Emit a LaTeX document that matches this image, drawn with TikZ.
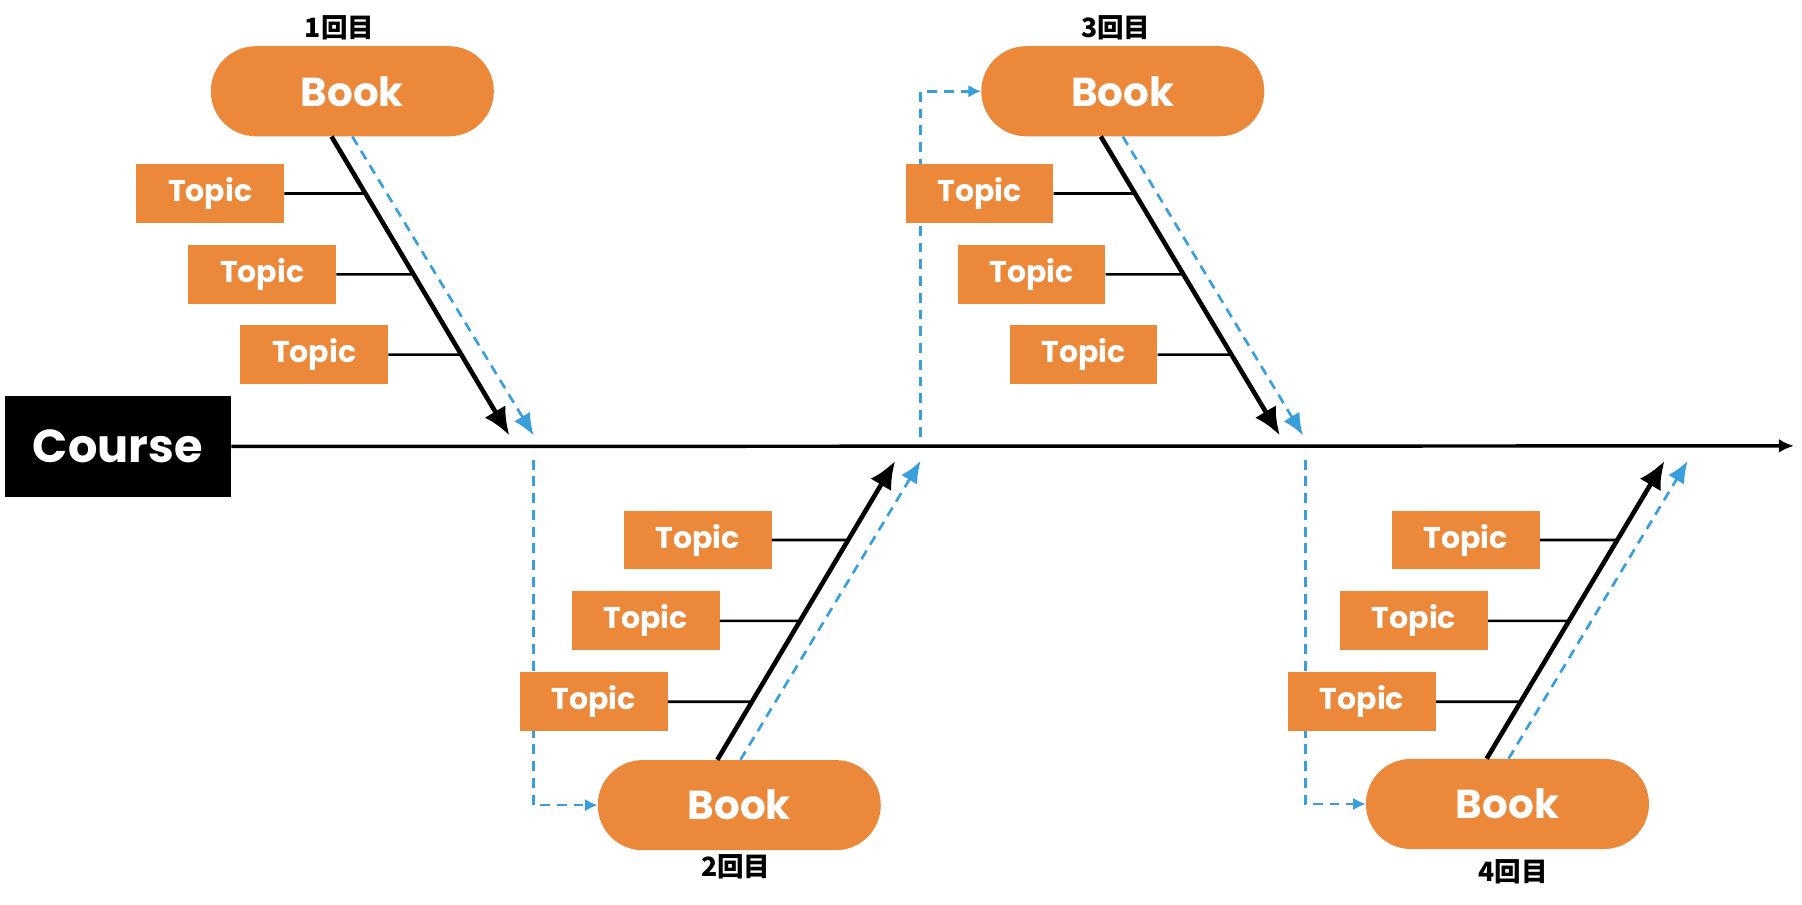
\documentclass[tikz,border=0pt]{standalone}
\usepackage{fontspec}
\setmainfont{Poppins}
\newfontfamily\cjk{Noto Sans CJK JP}
\usepackage{tikz}
\usetikzlibrary{calc}
\usetikzlibrary{arrows.meta}
\usetikzlibrary{positioning}

\definecolor{bookorange}{RGB}{236,136,58}
\definecolor{flowblue}{RGB}{58,158,219}

\tikzset{
 book/.style={rectangle, rounded corners=38.9pt, fill=bookorange, text=white, minimum width=245pt, minimum height=78pt, inner sep=0pt, font=\fontsize{35}{40}\selectfont\bfseries},
 topic/.style={rectangle, fill=bookorange, text=white, minimum width=128pt, minimum height=51pt, inner sep=0pt, font=\fontsize{26}{30}\selectfont\bfseries},
 roundlabel/.style={inner sep=0pt, font=\cjk\fontsize{23}{26}\selectfont\bfseries},
 bone/.style={line width=4pt, -{Latex[length=24pt,width=21pt]}},
 flow/.style={draw=flowblue, line width=2.3pt, dash pattern=on 8.5pt off 6pt},
 flowtip/.style={-{Latex[length=19pt,width=16pt,fill=flowblue]}},
 jump/.style={-{Latex[length=11pt,width=11pt,fill=flowblue]}},
 twig/.style={line width=2.3pt},
}

\begin{document}
\begin{tikzpicture}[x=1pt, y=-1pt]
 \useasboundingbox (0,0) rectangle (1560,783);
 % spine
 \node [rectangle, fill=black, text=white, minimum width=196pt, minimum height=87pt, font=\fontsize{40}{46}\selectfont\bfseries] (course) at (102, 386.5) {Course};
 \coordinate (axis) at (1553, 386);
 \draw [line width=3pt, -{Latex[length=13pt,width=12pt]}] (course.east) -- (axis);

 % books
 \node [book] (book1) at (305, 79) {Book};
 \node [book] (book2) at (640, 697) {Book};
 \node [book] (book3) at (972, 79) {Book};
 \node [book] (book4) at (1305, 696) {Book};
 \node [roundlabel] (lab1) at (294, 24) {1回目};
 \node [roundlabel] (lab2) at (637, 750) {2回目};
 \node [roundlabel] (lab3) at (966, 24) {3回目};
 \node [roundlabel] (lab4) at (1310, 755) {4回目};

 % ends of the bones
 \coordinate (s1) at ([xshift=-18pt]book1.south);
 \coordinate (s2) at ([xshift=-19pt]book2.north);
 \coordinate (s3) at ([xshift=-19pt]book3.south);
 \coordinate (s4) at ([xshift=-18pt]book4.north);
 \coordinate (e1) at (441, 377);
 \coordinate (e2) at (775, 399);
 \coordinate (e3) at (1108, 377);
 \coordinate (e4) at (1441, 399);
 \coordinate (f1) at (462, 377);
 \coordinate (f2) at (797, 399);
 \coordinate (f3) at (1128, 377);
 \coordinate (f4) at (1461, 399);
 \coordinate (d1) at (462, 398);
 \coordinate (d2) at (797, 378);
 \coordinate (d3) at (1130, 398);

 % reading order
 \draw [flow, jump] (d1) |- (book2.west);
 \draw [flow, jump] (d2) |- (book3.west);
 \draw [flow, jump] (d3) |- (book4.west);
 \draw [flow, flowtip] (book1.south) -- (f1);
 \draw [flow, flowtip] ([xshift=1pt]book2.north) -- (f2);
 \draw [flow, flowtip] (book3.south) -- (f3);
 \draw [flow, flowtip] ([xshift=1pt]book4.north) -- (f4);

 % topics
 \node [topic] (t1a) at (182, 167.5) {Topic};
 \node [topic] (t1b) at (227, 237.5) {Topic};
 \node [topic] (t1c) at (272, 307) {Topic};
 \node [topic] (t2a) at (604, 467.5) {Topic};
 \node [topic] (t2b) at (559, 537.5) {Topic};
 \node [topic] (t2c) at (514, 607.5) {Topic};
 \node [topic] (t3a) at (848, 167.5) {Topic};
 \node [topic] (t3b) at (893, 237.5) {Topic};
 \node [topic] (t3c) at (938, 307) {Topic};
 \node [topic] (t4a) at (1269, 467.5) {Topic};
 \node [topic] (t4b) at (1224, 537.5) {Topic};
 \node [topic] (t4c) at (1179, 607.5) {Topic};

 \draw [twig] (t1a.east) -- (intersection of t1a.east--t1a.west and s1--e1);
 \draw [twig] (t1b.east) -- (intersection of t1b.east--t1b.west and s1--e1);
 \draw [twig] (t1c.east) -- (intersection of t1c.east--t1c.west and s1--e1);
 \draw [twig] (t2a.east) -- (intersection of t2a.east--t2a.west and s2--e2);
 \draw [twig] (t2b.east) -- (intersection of t2b.east--t2b.west and s2--e2);
 \draw [twig] (t2c.east) -- (intersection of t2c.east--t2c.west and s2--e2);
 \draw [twig] (t3a.east) -- (intersection of t3a.east--t3a.west and s3--e3);
 \draw [twig] (t3b.east) -- (intersection of t3b.east--t3b.west and s3--e3);
 \draw [twig] (t3c.east) -- (intersection of t3c.east--t3c.west and s3--e3);
 \draw [twig] (t4a.east) -- (intersection of t4a.east--t4a.west and s4--e4);
 \draw [twig] (t4b.east) -- (intersection of t4b.east--t4b.west and s4--e4);
 \draw [twig] (t4c.east) -- (intersection of t4c.east--t4c.west and s4--e4);

 % bones
 \draw [bone] (s1) -- (e1);
 \draw [bone] (s2) -- (e2);
 \draw [bone] (s3) -- (e3);
 \draw [bone] (s4) -- (e4);
\end{tikzpicture}
\end{document}
